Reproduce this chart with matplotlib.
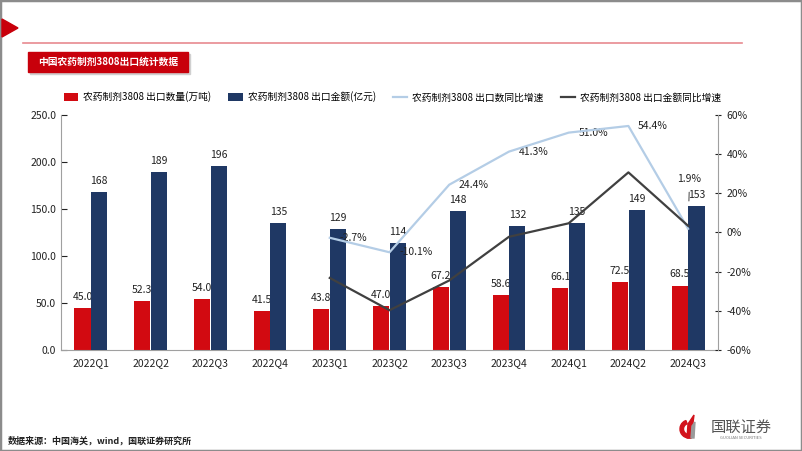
import numpy as np
import matplotlib
matplotlib.use('Agg')
import matplotlib.pyplot as plt
from matplotlib.patches import Rectangle, Polygon, Wedge
from matplotlib.ticker import FuncFormatter

plt.rcParams['font.family'] = ['Noto Sans CJK SC', 'DejaVu Sans']
plt.rcParams['axes.unicode_minus'] = False

# 数据
quarters = ['2022Q1', '2022Q2', '2022Q3', '2022Q4', '2023Q1', '2023Q2',
            '2023Q3', '2023Q4', '2024Q1', '2024Q2', '2024Q3']
qty = [45.0, 52.3, 54.0, 41.5, 43.8, 47.0, 67.2, 58.6, 66.1, 72.5, 68.5]
amt = [168, 189, 196, 135, 129, 114, 148, 132, 135, 149, 153]
qty_yoy = [np.nan] * 4 + [-2.7, -10.1, 24.4, 41.3, 51.0, 54.4, 1.9]
amt_yoy = [np.nan] * 4 + [-23.2, -39.7, -24.5, -2.2, 4.7, 30.7, 3.4]
labels = ['农药制剂3808 出口数量(万吨)', '农药制剂3808 出口金额(亿元)',
          '农药制剂3808 出口数同比增速', '农药制剂3808 出口金额同比增速']

red = '#d20a11'
navy = '#1f3864'
light = '#b4cde6'
dark = '#404040'
W, H = 802, 451


def fx(x):
    return x / W


def fy(y):
    return 1 - y / H


fig = plt.figure(figsize=(8.02, 4.51), dpi=100)
ax = fig.add_axes([fx(61), fy(350), fx(718) - fx(61), fy(115) - fy(350)])

x = np.arange(len(quarters))
bw = 0.27
b1 = ax.bar(x - 0.14, qty, bw, color=red, zorder=2)
b2 = ax.bar(x + 0.14, amt, bw, color=navy, zorder=3)
for i, v in enumerate(qty):
    ax.annotate('%.1f' % v, (x[i] - 0.14, v), xytext=(0, 8), textcoords='offset points',
                ha='center', va='center', fontsize=7.5, color='#222222', zorder=2.5)
for i, v in enumerate(amt):
    ax.annotate('%d' % v, (x[i] + 0.14, v), xytext=(0, 8), textcoords='offset points',
                ha='center', va='center', fontsize=7.5, color='#222222', zorder=4)

ax.set_xlim(-0.5, len(quarters) - 0.5)
ax.set_ylim(0, 250)
ax.set_yticks(np.arange(0, 251, 50))
ax.yaxis.set_major_formatter(FuncFormatter(lambda v, p: '%.1f' % v))
ax.set_xticks(x)
ax.set_xticklabels(quarters)
ax.tick_params(axis='x', length=0, labelsize=7.5, pad=6, colors='#222222')
ax.tick_params(axis='y', direction='in', length=4, labelsize=7.5, colors='#222222')
for s in ['top', 'right']:
    ax.spines[s].set_visible(False)
for s in ['left', 'bottom']:
    ax.spines[s].set_color('#a0a0a0')

ax2 = ax.twinx()
l1, = ax2.plot(x, np.array(qty_yoy) / 100, color=light, lw=1.6, zorder=5)
l2, = ax2.plot(x, np.array(amt_yoy) / 100, color=dark, lw=1.6, zorder=5)
ax2.set_ylim(-0.6, 0.6)
ax2.set_yticks(np.arange(-0.6, 0.61, 0.2))
ax2.yaxis.set_major_formatter(FuncFormatter(lambda v, p: '%d%%' % round(v * 100)))
ax2.tick_params(axis='y', direction='inout', length=5, labelsize=7.5, colors='#222222')
for s in ['top', 'left', 'bottom']:
    ax2.spines[s].set_visible(False)
ax2.spines['right'].set_color('#a0a0a0')

for i, v in enumerate(qty_yoy):
    if np.isnan(v):
        continue
    if i == len(qty_yoy) - 1:
        ax2.annotate('%.1f%%' % v, (x[i], v / 100), xytext=(1, 36), textcoords='offset points',
                     ha='center', va='center', fontsize=7.5, color='#222222',
                     arrowprops=dict(arrowstyle='-', color='#222222', lw=0.6, shrinkA=4, shrinkB=20))
    else:
        ax2.annotate('%.1f%%' % v, (x[i], v / 100), xytext=(7, 0), textcoords='offset points',
                     ha='left', va='center', fontsize=7.5, color='#222222')

fig.legend([b1, b2, l1, l2], labels, loc='center left', bbox_to_anchor=(fx(55), fy(97)),
           ncol=4, frameon=False, fontsize=7, handlelength=1.5, handletextpad=0.5,
           columnspacing=1.75, handleheight=0.8)

# 页面装饰
fig.patches.append(Rectangle((0, 0), 1, 1, transform=fig.transFigure, fill=False,
                             edgecolor='#8c8c8c', lw=2.5))
fig.patches.append(Polygon([[fx(2), fy(19)], [fx(18), fy(28)], [fx(2), fy(37)]],
                           closed=True, transform=fig.transFigure, color='#c8000b'))
fig.add_artist(plt.Line2D([fx(23), fx(742)], [fy(43), fy(43)], transform=fig.transFigure,
                          color='#e88a90', lw=1.2))
fig.patches.append(Rectangle((fx(30), fy(74)), fx(160), fy(0) - fy(20), transform=fig.transFigure,
                             color='#d0d0d0', zorder=1))
fig.patches.append(Rectangle((fx(28), fy(72)), fx(160), fy(0) - fy(20), transform=fig.transFigure,
                             color='#c8000b', zorder=2))
fig.text(fx(108), fy(62), '中国农药制剂3808出口统计数据', color='white', fontsize=7,
         fontweight='bold', ha='center', va='center', zorder=3)

fig.text(fx(8), fy(441), '数据来源：中国海关，wind，国联证券研究所', fontsize=6.5,
         fontweight='bold', ha='left', va='center', color='#222222')

# logo
lax = fig.add_axes([fx(678), fy(440), fx(20), fy(0) - fy(26)])
lax.set_xlim(0, 20)
lax.set_ylim(0, 26)
lax.axis('off')
lax.add_patch(Wedge((11, 11), 9, 110, 290, width=3.5, color='#d2121b'))
lax.add_patch(Polygon([[9, 2], [10, 16], [16, 25], [13, 2]], closed=True, color='#d2121b'))
lax.add_patch(Polygon([[13, 2], [14, 14], [17, 18], [16, 2]], closed=True, color='#9a9a9a'))
fig.text(fx(741), fy(427), '国联证券', fontsize=11, ha='center', va='center', color='#555555')
fig.text(fx(741), fy(438), 'GUOLIAN SECURITIES', fontsize=3, ha='center', va='center',
         color='#777777')

fig.savefig('out.png', dpi=100)
